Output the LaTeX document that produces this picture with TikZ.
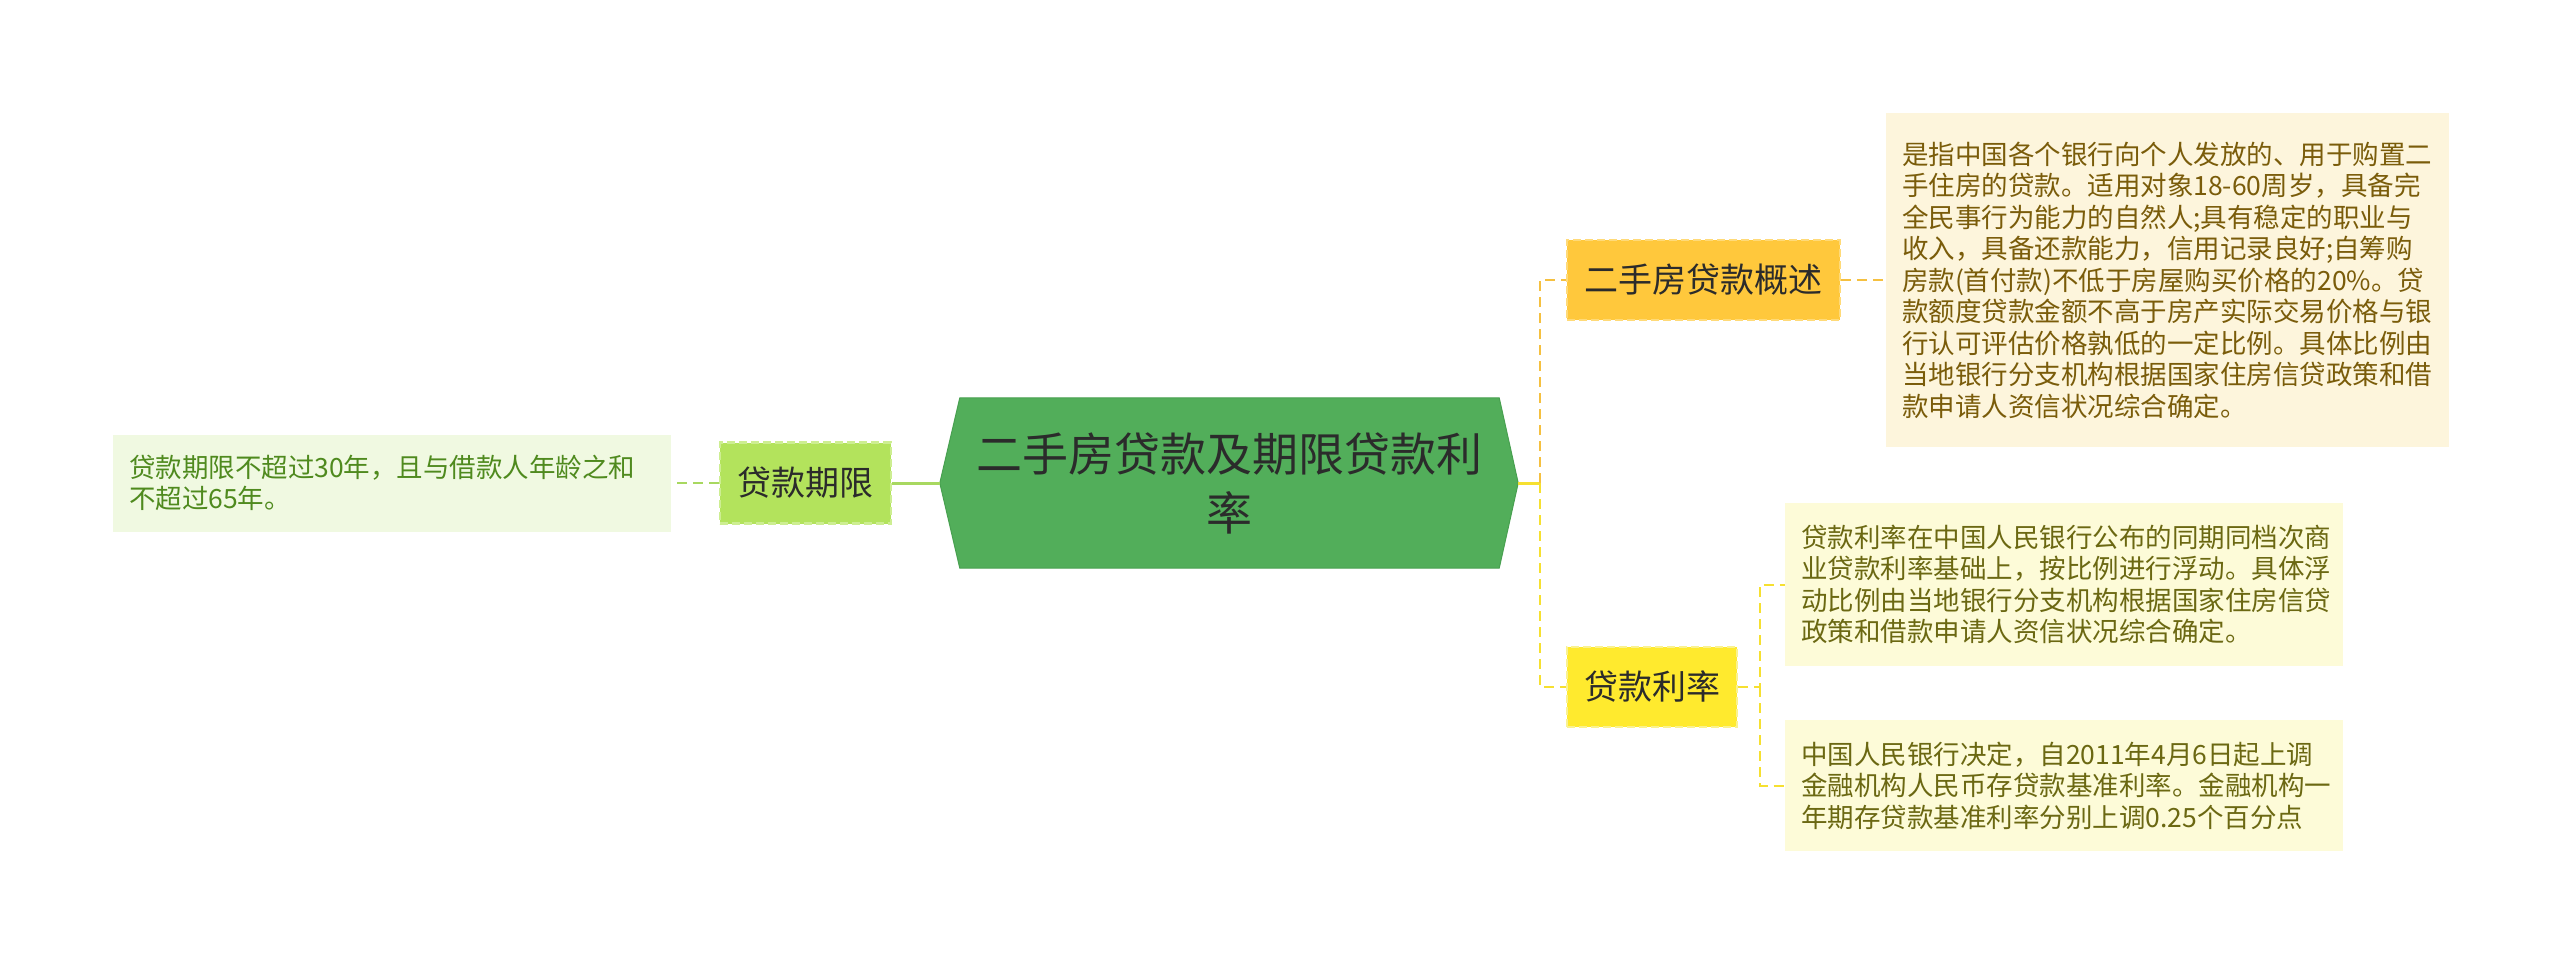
\documentclass[tikz,border=0pt]{standalone}
\usepackage{fontspec}
\setmainfont{Noto Sans CJK SC}
\usetikzlibrary{backgrounds}
\definecolor{rootg}{HTML}{52AE5A}
\definecolor{rootgb}{HTML}{48A050}
\definecolor{orgf}{HTML}{FFC83C}
\definecolor{orgb}{HTML}{FFDA78}
\definecolor{yelf}{HTML}{FFEA2E}
\definecolor{yelb}{HTML}{FAF290}
\definecolor{grnf}{HTML}{B3E35C}
\definecolor{grnb}{HTML}{CDEE92}
\definecolor{t1f}{HTML}{FDF5DC}
\definecolor{t1t}{HTML}{7A5C0A}
\definecolor{t2f}{HTML}{FDFBD8}
\definecolor{t2t}{HTML}{6B6812}
\definecolor{t0f}{HTML}{F0F9E1}
\definecolor{t0t}{HTML}{4F8A1E}
\definecolor{lnG}{HTML}{A8D860}
\definecolor{lnO}{HTML}{F5C040}
\definecolor{lnY}{HTML}{F6E030}
\definecolor{txt}{HTML}{2B2B2B}
\tikzset{
  subbox/.style={inner sep=0pt, line width=2.5pt, dash pattern=on 8pt off 4pt, text=txt,
    font=\fontsize{34}{40}\selectfont},
  leafbox/.style={inner xsep=16pt, inner ysep=0pt, align=left,
    font=\fontsize{26.5}{31.5}\selectfont},
  mainline/.style={line width=3pt},
  dline/.style={line width=2.5pt, dash pattern=on 10pt off 6pt},
}
\begin{document}
\begin{tikzpicture}[x=1pt,y=-1pt]
\useasboundingbox (0,0) rectangle (2560,967);
% root
\node[inner sep=0pt, minimum width=578, minimum height=170, align=center, text=txt,
  font=\fontsize{46}{59}\selectfont] (root) at (1229,483)
  {二手房贷款及期限贷款利\\率};
\begin{scope}[on background layer]
\fill[white] (0,0) rectangle (2560,967);
\filldraw[fill=rootg, draw=rootgb, line width=1pt]
  (root.west) -- ([xshift=20pt]root.north west) -- ([xshift=-19pt]root.north east)
  -- (root.east) -- ([xshift=-19pt]root.south east) -- ([xshift=20pt]root.south west) -- cycle;
\end{scope}
% level 1
\node[subbox, fill=orgf, draw=orgb, minimum width=273, minimum height=80] (gaishu) at (1703.5,280) {二手房贷款概述};
\node[subbox, fill=yelf, draw=yelb, minimum width=170, minimum height=80] (lilv) at (1652,687) {贷款利率};
\node[subbox, fill=grnf, draw=grnb, minimum width=171, minimum height=81] (qixian) at (805.5,483) {贷款期限};
% leaves
\node[leafbox, fill=t1f, text=t1t, minimum height=334, text width=531] (t1) at (2167.5,280)
{是指中国各个银行向个人发放的、用于购置二\\
手住房的贷款。适用对象18-60周岁，具备完\\
全民事行为能力的自然人;具有稳定的职业与\\
收入，具备还款能力，信用记录良好;自筹购\\
房款(首付款)不低于房屋购买价格的20\%。贷\\
款额度贷款金额不高于房产实际交易价格与银\\
行认可评估价格孰低的一定比例。具体比例由\\
当地银行分支机构根据国家住房信贷政策和借\\
款申请人资信状况综合确定。};
\node[leafbox, fill=t2f, text=t2t, minimum height=163, text width=526] (t2) at (2064,584.5)
{贷款利率在中国人民银行公布的同期同档次商\\
业贷款利率基础上，按比例进行浮动。具体浮\\
动比例由当地银行分支机构根据国家住房信贷\\
政策和借款申请人资信状况综合确定。};
\node[leafbox, fill=t2f, text=t2t, minimum height=131, text width=526] (t3) at (2064,785.5)
{中国人民银行决定，自2011年4月6日起上调\\
金融机构人民币存贷款基准利率。金融机构一\\
年期存贷款基准利率分别上调0.25个百分点};
\node[leafbox, fill=t0f, text=t0t, minimum height=97, text width=526] (t0) at (392,483)
{贷款期限不超过30年，且与借款人年龄之和\\
不超过65年。};
% connectors
\coordinate (tr) at (1540,483);
\coordinate (tr2) at (1760,687);
\draw[mainline, lnY] (root.east) -- (tr);
\draw[dline, lnO] (tr) |- (gaishu.west);
\draw[dline, lnY] (tr) |- (lilv.west);
\draw[dline, lnO] (gaishu.east) -- (t1.west);
\draw[dline, lnY, line width=2pt] (lilv.east) -- (tr2) |- (t2.west);
\draw[dline, lnY, line width=2pt] (tr2) |- (t3.west);
\draw[mainline, lnG] (root.west) -- (qixian.east);
\draw[dline, lnG] (qixian.west) -- (t0.east);
\end{tikzpicture}
\end{document}
